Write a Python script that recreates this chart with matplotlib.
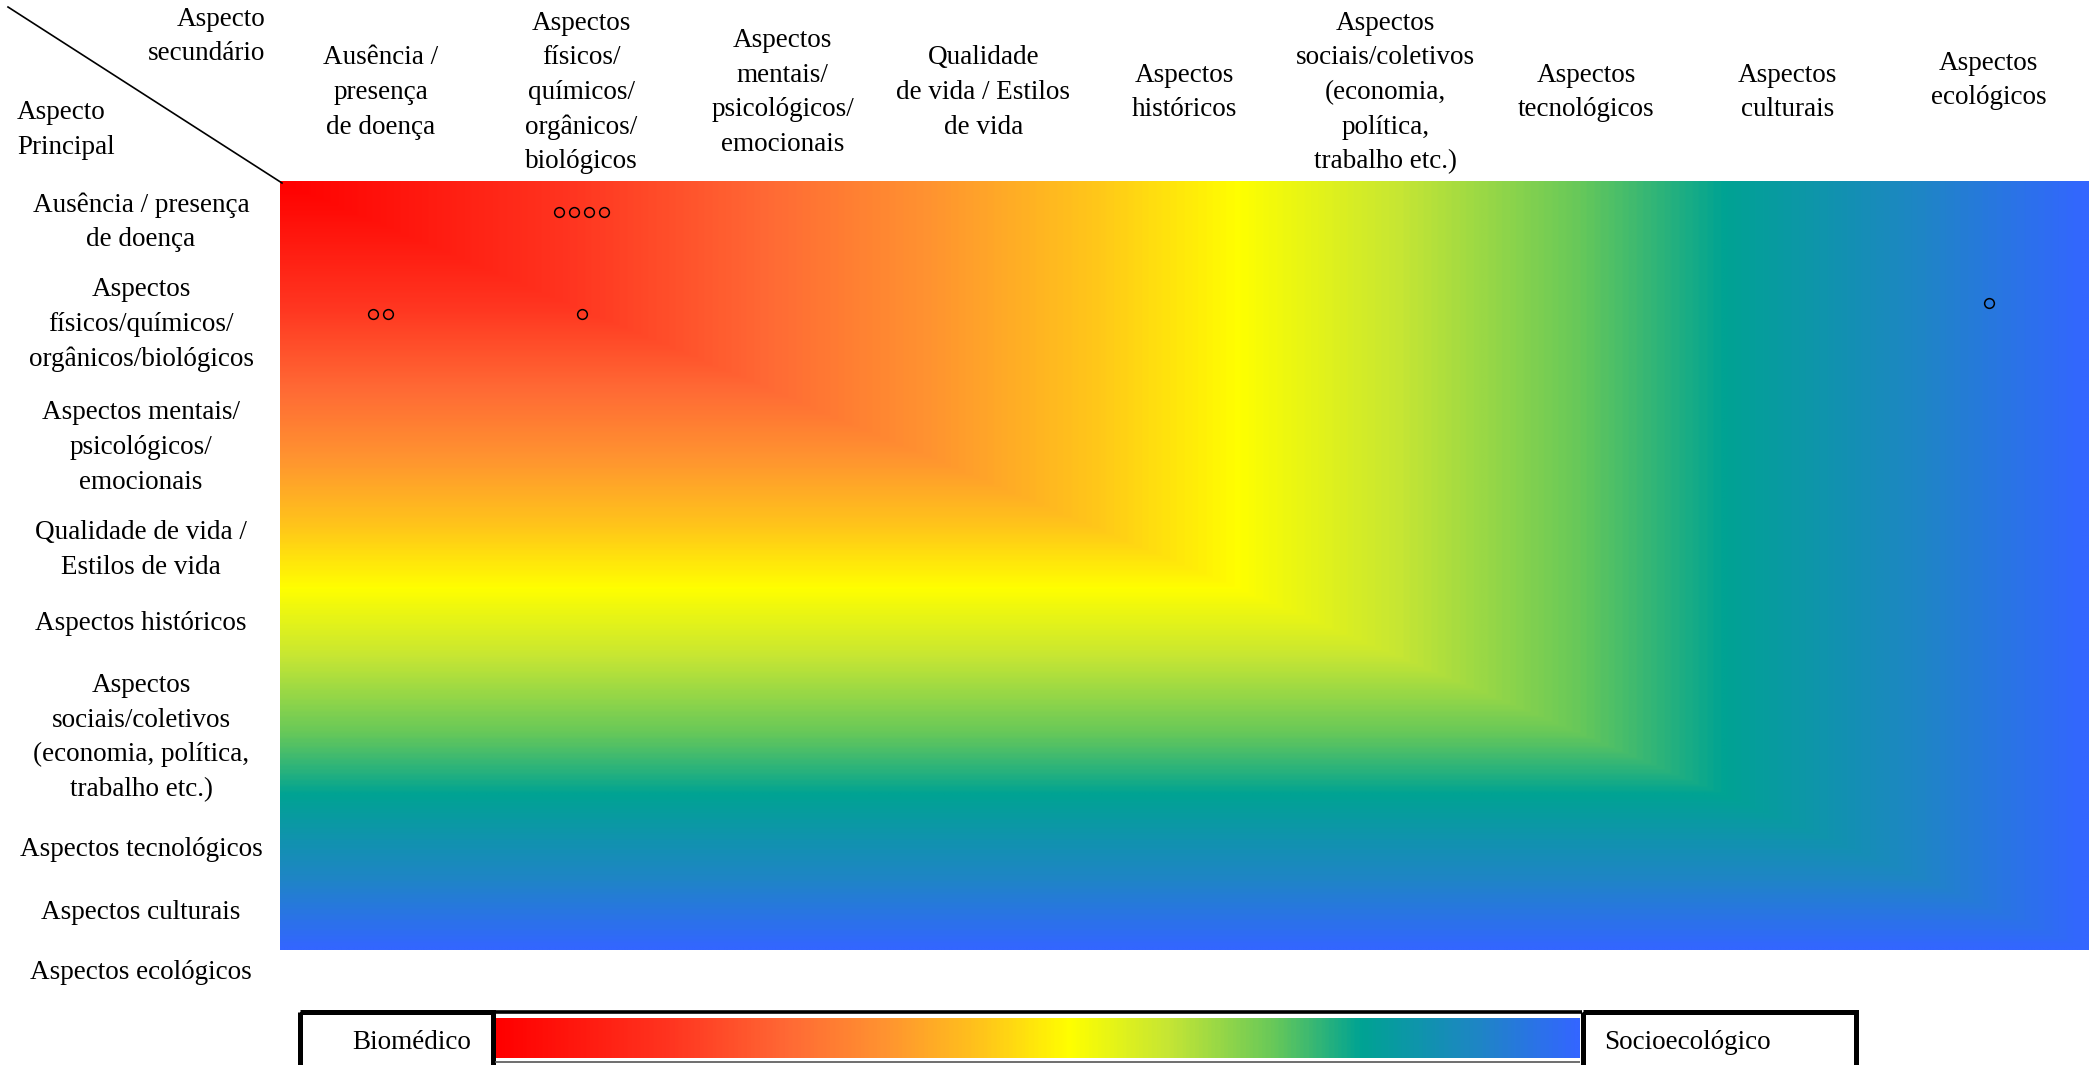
import numpy as np
import matplotlib
matplotlib.use("Agg")
import matplotlib.pyplot as plt
from matplotlib.colors import LinearSegmentedColormap
from matplotlib.patches import Rectangle

# canvas size in pixels (dpi 100)
W, H = 2089, 1065

col_labels = [
    "Ausência /\npresença\nde doença",
    "Aspectos\nfísicos/\nquímicos/\norgânicos/\nbiológicos",
    "Aspectos\nmentais/\npsicológicos/\nemocionais",
    "Qualidade\nde vida / Estilos\nde vida",
    "Aspectos\nhistóricos",
    "Aspectos\nsociais/coletivos\n(economia,\npolítica,\ntrabalho etc.)",
    "Aspectos\ntecnológicos",
    "Aspectos\nculturais",
    "Aspectos\necológicos",
]
row_labels = [
    "Ausência / presença\nde doença",
    "Aspectos\nfísicos/químicos/\norgânicos/biológicos",
    "Aspectos mentais/\npsicológicos/\nemocionais",
    "Qualidade de vida /\nEstilos de vida",
    "Aspectos históricos",
    "Aspectos\nsociais/coletivos\n(economia, política,\ntrabalho etc.)",
    "Aspectos tecnológicos",
    "Aspectos culturais",
    "Aspectos ecológicos",
]

# occurrences: row (aspecto principal), column (aspecto secundário), count
mark_rows = [0, 1, 1, 1]
mark_cols = [1, 0, 1, 8]
mark_counts = [4, 2, 1, 1]

scale_ends = ["Biomédico", "Socioecológico"]
grad_pos = [0.0, 0.16, 0.27, 0.36, 0.45, 0.53, 0.62, 0.72, 0.80, 0.91, 1.0]
grad_colors = ["#ff0000", "#ff3520", "#ff6a35", "#ff9430", "#ffc61a", "#ffff00",
               "#c6e634", "#66c85a", "#00a393", "#1f85c6", "#3366ff"]

cmap = LinearSegmentedColormap.from_list("bio_socio", list(zip(grad_pos, grad_colors)))

FONT = "Liberation Serif"
FS = 19.5
LS = 34.7  # baseline to baseline, px


def block(ax, x, ymid, text, ha="center"):
    # draw a multi-line label with even line pitch, ymid = mean baseline
    lines = text.split("\n")
    n = len(lines)
    for k, line in enumerate(lines):
        ax.text(x, ymid + (k - (n - 1) / 2) * LS, line, ha=ha, va="baseline",
                fontsize=FS, family=FONT, color="black")


fig = plt.figure(figsize=(W / 100, H / 100), dpi=100)
fig.patch.set_facecolor("white")

# heatmap area
hx0, hx1, hy0, hy1 = 280, 2089, 181, 950
row_px0, row_step = 212, 102
ax = fig.add_axes([hx0 / W, 1 - hy1 / H, (hx1 - hx0) / W, (hy1 - hy0) / H])
ybot = (hy1 - row_px0) / row_step
ytop = (hy0 - row_px0) / row_step
ax.set_xlim(-0.5, len(col_labels) - 0.5)
ax.set_ylim(ybot, ytop)

u = np.linspace(0, 1, 900)
v = np.linspace(0, 1, 400)
U, V = np.meshgrid(u, v)
ax.imshow(np.maximum(U, V), cmap=cmap, vmin=0, vmax=1, aspect="auto", origin="upper",
          extent=(-0.5, len(col_labels) - 0.5, ybot, ytop), interpolation="bilinear")

# the marks in the last column sit a little higher in their cell
col_nudge = {8: -0.11}
for r, c, n in zip(mark_rows, mark_cols, mark_counts):
    xs = c + (np.arange(n) - (n - 1) / 2) * 0.076
    ax.plot(xs, [r + col_nudge.get(c, 0)] * n, "o", ms=7, mfc="none", mec="black", mew=1.1)
ax.axis("off")

# colour scale bar
lax = fig.add_axes([496 / W, 1 - 1058 / H, (1580 - 496) / W, 40 / H])
lax.imshow(np.linspace(0, 1, 600)[None, :], cmap=cmap, aspect="auto", extent=(0, 1, 0, 1))
lax.axis("off")

# overlay in pixel coordinates for the table text
ax0 = fig.add_axes([0, 0, 1, 1])
ax0.set_xlim(0, W)
ax0.set_ylim(H, 0)
ax0.axis("off")

ax0.plot([8, 282], [7, 183], color="black", lw=1.2)
block(ax0, 265, 43, "Aspecto\nsecundário", ha="right")
block(ax0, 17, 136.5, "Aspecto\nPrincipal", ha="left")

col_y = [99] * 8 + [87]
for i, lab in enumerate(col_labels):
    block(ax0, hx0 + (i + 0.5) * 201, col_y[i], lab)

row_y = [229, 331, 454, 556.5, 630, 744, 856, 919, 979]
for lab, y in zip(row_labels, row_y):
    block(ax0, 141, y, lab)

# frame around the scale
ax0.add_patch(Rectangle((299.5, 1011.5), 193, 120, fill=False, ec="black", lw=3.6))
ax0.add_patch(Rectangle((1582.5, 1011.5), 273, 120, fill=False, ec="black", lw=3.6))
ax0.plot([495, 1582], [1011.5, 1011.5], color="black", lw=2.6, solid_capstyle="butt")
ax0.plot([495, 1580], [1062, 1062], color="#555555", lw=1.2, solid_capstyle="butt")
ax0.text(412, 1049, scale_ends[0], ha="center", va="baseline", fontsize=FS, family=FONT)
ax0.text(1604, 1049, scale_ends[1], ha="left", va="baseline", fontsize=FS, family=FONT)

fig.savefig("out.png", dpi=100)
